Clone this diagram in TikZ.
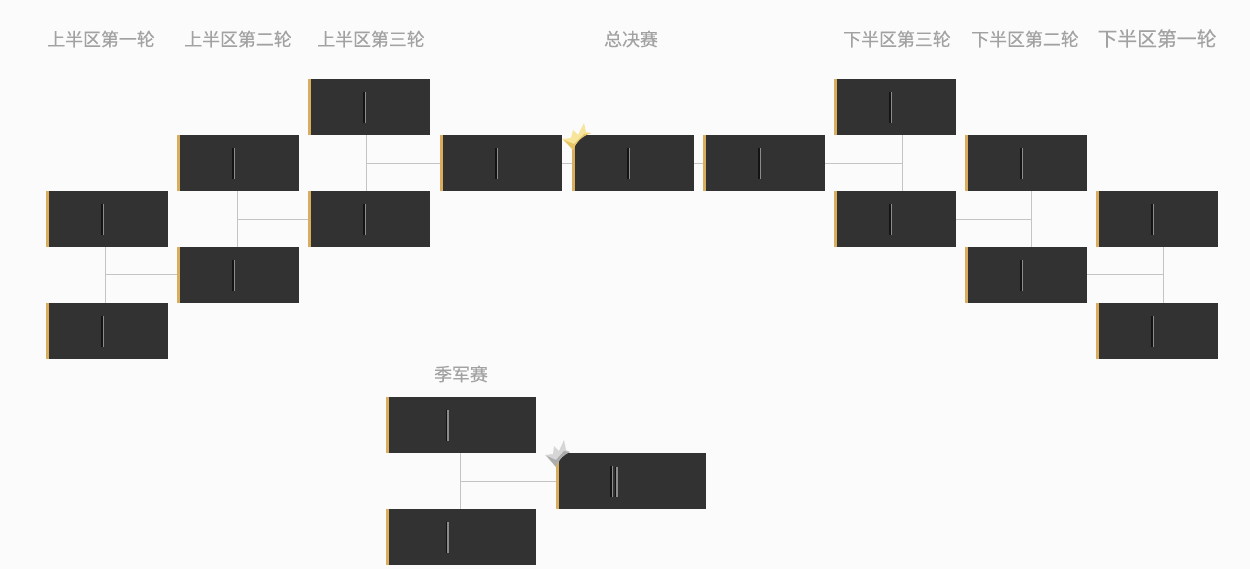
\documentclass[tikz,border=0pt]{standalone}
\usepackage{fontspec}
\usepackage{xcolor}
\setmainfont{Noto Sans CJK SC}[FakeBold=0.3]
\definecolor{pagebg}{HTML}{FBFBFB}
\definecolor{boxfill}{HTML}{323232}
\definecolor{boxedge}{HTML}{D8AE5E}
\definecolor{linkgray}{HTML}{C4C4C4}
\definecolor{titlegray}{HTML}{A2A2A2}
\definecolor{dividergray}{HTML}{8C8C8C}
\definecolor{dividerdark}{HTML}{141414}
\definecolor{crownpale}{HTML}{F8E59C}
\definecolor{crowndeep}{HTML}{E6C363}
\definecolor{silverpale}{HTML}{D6D6D6}
\definecolor{silverdeep}{HTML}{ACACAC}
\tikzset{
  dividerat/.store in=\dividershift,
  dividerat=-0.1cm,
  matchbox/.style={rectangle, fill=boxfill, inner sep=0pt, minimum width=2.44cm, minimum height=1.12cm,
    path picture={
      \fill[boxedge] (path picture bounding box.south west) rectangle ([xshift=0.05cm]path picture bounding box.north west);
      \draw[dividerdark, line width=0.7pt] ([xshift=\dividershift,yshift=-0.25cm]path picture bounding box.north) -- ([xshift=\dividershift,yshift=0.25cm]path picture bounding box.south);
      \draw[dividergray, line width=0.7pt] ([xshift=\dividershift+0.03cm,yshift=-0.25cm]path picture bounding box.north) -- ([xshift=\dividershift+0.03cm,yshift=0.25cm]path picture bounding box.south);
    }},
  widebox/.style={matchbox, minimum width=3cm},
  link/.style={draw=linkgray, line width=0.5pt},
  roundtitle/.style={text=titlegray, font=\fontsize{10.2}{12}\selectfont, inner sep=0pt}
}
\begin{document}
\begin{tikzpicture}[x=0.02cm, y=-0.02cm]
    \fill[pagebg] (0,0) rectangle (1250,569);
    \useasboundingbox (0,0) rectangle (1250,569);

    % Round titles
    \node[roundtitle] (title1) at (101,39) {上半区第一轮};
    \node[roundtitle] (title2) at (238,39) {上半区第二轮};
    \node[roundtitle] (title3) at (371,39) {上半区第三轮};
    \node[roundtitle] (title4) at (631,39) {总决赛};
    \node[roundtitle] (title5) at (897,39) {下半区第三轮};
    \node[roundtitle] (title6) at (1025,39) {下半区第二轮};
    \node[roundtitle, font=\fontsize{11.3}{13}\selectfont] (title7) at (1157,38.5) {下半区第一轮};
    \node[roundtitle] (title8) at (461,374) {季军赛};

    % Upper half
    \node[matchbox] (upa1) at (107,219) {};
    \node[matchbox] (upa2) at (107,331) {};
    \node[matchbox] (upb1) at (238,163) {};
    \node[matchbox] (upb2) at (238,275) {};
    \node[matchbox] (upc1) at (369,107) {};
    \node[matchbox] (upc2) at (369,219) {};

    % Final
    \node[matchbox] (semiup) at (501,163) {};
    \node[matchbox] (final) at (633,163) {};
    \node[matchbox] (semilow) at (764,163) {};

    % Lower half
    \node[matchbox] (lowc1) at (895,107) {};
    \node[matchbox] (lowc2) at (895,219) {};
    \node[matchbox] (lowb1) at (1026,163) {};
    \node[matchbox] (lowb2) at (1026,275) {};
    \node[matchbox] (lowa1) at (1157,219) {};
    \node[matchbox] (lowa2) at (1157,331) {};

    % Third place
    \node[widebox, dividerat=-0.29cm] (third1) at (461,425) {};
    \node[widebox, dividerat=-0.29cm] (third2) at (461,537) {};
    \node[widebox, dividerat=-0.4cm] (thirdwin) at (631,481) {};
    \draw[dividerdark, line width=0.7pt] (615.5,466.5) -- (615.5,497);
    \draw[dividergray, line width=0.7pt] (617,466.5) -- (617,497);

    % Junctions
    \coordinate (joina) at (105.5,274);
    \coordinate (joinb) at (237.5,219);
    \coordinate (joinc) at (366.5,163);
    \coordinate (joind) at (902.5,163);
    \coordinate (joine) at (1031.5,219);
    \coordinate (joinf) at (1163.5,274);
    \coordinate (joing) at (460.5,481);

    % Links
    \draw[link] (upa1.south -| joina) -- (upa2.north -| joina);
    \draw[link] (joina) -- (upb2.west |- joina);
    \draw[link] (upb1.south -| joinb) -- (upb2.north -| joinb);
    \draw[link] (joinb) -- (upc2.west |- joinb);
    \draw[link] (upc1.south -| joinc) -- (upc2.north -| joinc);
    \draw[link] (joinc) -- (semiup.west);
    \draw[link] (semiup.east) -- (final.west);
    \draw[link] (final.east) -- (semilow.west);
    \draw[link] (semilow.east) -- (joind);
    \draw[link] (lowc1.south -| joind) -- (lowc2.north -| joind);
    \draw[link] (lowc2.east) -- (joine);
    \draw[link] (lowb1.south -| joine) -- (lowb2.north -| joine);
    \draw[link] (lowb2.east |- joinf) -- (joinf);
    \draw[link] (lowa1.south -| joinf) -- (lowa2.north -| joinf);
    \draw[link] (third1.south -| joing) -- (third2.north -| joing);
    \draw[link] (joing) -- (thirdwin.west |- joing);

    % Crowns
    \fill[crownpale] (562,139) -- (571,138) -- (573,130) -- (578,135) -- (584,123) -- (586,132) -- (591,133) .. controls (582,136) and (576,142) .. (573,150) -- cycle;
    \fill[crowndeep] (564,140) -- (574,144) -- (584,134) -- (591,133) .. controls (582,136) and (576,142) .. (573,150) -- cycle;
    \fill[silverpale] (545,455) -- (553,454) -- (554,446) -- (559,451) -- (564,440) -- (566,450) -- (570,452) .. controls (564,454) and (559,459) .. (556,467) -- cycle;
    \fill[silverdeep] (547,456) -- (556,460) -- (564,451) -- (570,452) .. controls (564,454) and (559,459) .. (556,467) -- cycle;
\end{tikzpicture}
\end{document}
